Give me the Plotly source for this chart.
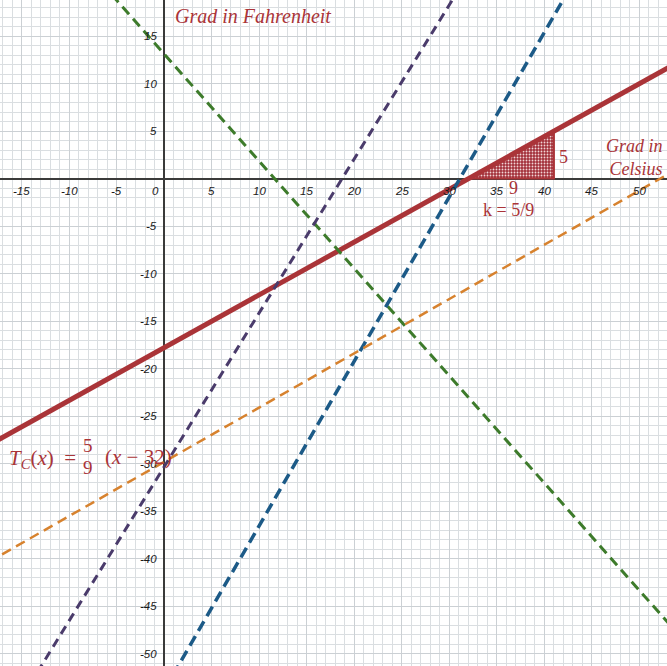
import plotly.graph_objects as go

# ---------------- data ----------------
x_range = [-17.3, 52.9]
y_range = [-51.3, 18.8]

x_tick_vals = [-15, -10, -5, 0, 5, 10, 15, 20, 25, 30, 35, 40, 45, 50]
y_tick_vals = [15, 10, 5, -5, -10, -15, -20, -25, -30, -35, -40, -45, -50]

# Red solid line  T_C(x) = 5/9 (x - 32)
red_x = [-20, 56]
red_y = [-28.89, 13.33]
# dashed helper lines (end points, clipped by axes)
green_x = [-10, 60]
green_y = [24.39, -54.64]
purple_x = [-20, 35]
purple_y = [-62.7, 26.4]
blue_x = [0, 45]
blue_y = [-53.8, 24.05]
orange_x = [-20, 56]
orange_y = [-41.22, 2.18]
# slope triangle
tri_x = [32, 41, 41, 32]
tri_y = [0, 0, 5, 0]

RED = "#aa3438"
GREEN = "#3d7b2b"
PURPLE = "#4a3b6b"
BLUE = "#1c5a87"
ORANGE = "#d7822e"

fig = go.Figure()

fig.add_trace(go.Scatter(
    x=tri_x, y=tri_y, mode="lines", fill="toself",
    line=dict(color=RED, width=2),
    fillcolor=RED,
    fillpattern=dict(shape=".", fgcolor="#f2d6d6", bgcolor="#a3303a",
                     size=3, solidity=0.3, fillmode="replace"),
    hoverinfo="skip", showlegend=False))

fig.add_trace(go.Scatter(x=red_x, y=red_y, mode="lines",
                         line=dict(color=RED, width=5), showlegend=False))
fig.add_trace(go.Scatter(x=green_x, y=green_y, mode="lines",
                         line=dict(color=GREEN, width=3, dash="10px,6px"), showlegend=False))
fig.add_trace(go.Scatter(x=purple_x, y=purple_y, mode="lines",
                         line=dict(color=PURPLE, width=3, dash="9px,6px"), showlegend=False))
fig.add_trace(go.Scatter(x=blue_x, y=blue_y, mode="lines",
                         line=dict(color=BLUE, width=3.5, dash="11px,6px"), showlegend=False))
fig.add_trace(go.Scatter(x=orange_x, y=orange_y, mode="lines",
                         line=dict(color=ORANGE, width=2.5, dash="10px,6px"), showlegend=False))

ann = []
tick_font = dict(family="Liberation Sans, Arial, sans-serif", size=11.5, color="#1a1a1a")
for v in x_tick_vals:
    ann.append(dict(x=(v if v != 0 else -0.95), y=-1.3, xref="x", yref="y",
                    text=f"<i>{v}</i>", showarrow=False, font=tick_font,
                    xanchor="center", yanchor="middle"))
for v in y_tick_vals:
    ann.append(dict(x=-0.6, y=v, xref="x", yref="y",
                    text=f"<i>{v}</i>", showarrow=False, font=tick_font,
                    xanchor="right", yanchor="middle"))

serif = "Liberation Serif, Times New Roman, serif"
ann += [
    dict(x=0.9, y=17.1, xref="x", yref="y", text="<i>Grad in Fahrenheit</i>",
         showarrow=False, xanchor="left", yanchor="middle",
         font=dict(family=serif, size=20, color=RED)),
    dict(x=52.7, y=2.2, xref="x", yref="y", text="<i>Grad in<br>Celsius</i>",
         showarrow=False, xanchor="right", yanchor="middle", align="right",
         font=dict(family=serif, size=18, color=RED)),
    dict(x=36.7, y=-0.95, xref="x", yref="y", text="9",
         showarrow=False, xanchor="center", yanchor="middle",
         font=dict(family=serif, size=18, color=RED)),
    dict(x=41.3, y=2.3, xref="x", yref="y", text="5",
         showarrow=False, xanchor="left", yanchor="middle",
         font=dict(family=serif, size=18, color=RED)),
    dict(x=36.2, y=-3.3, xref="x", yref="y", text="k = 5/9",
         showarrow=False, xanchor="center", yanchor="middle",
         font=dict(family=serif, size=18, color=RED)),
    # formula T_C(x) = 5/9 (x - 32)
    dict(x=-16.6, y=-29.5, xref="x", yref="y",
         text="<i>T</i><sub><i>C</i></sub>(<i>x</i>)  =",
         showarrow=False, xanchor="left", yanchor="middle",
         font=dict(family=serif, size=21, color=RED)),
    dict(x=-8.0, y=-28.1, xref="x", yref="y", text="5",
         showarrow=False, xanchor="center", yanchor="middle",
         font=dict(family=serif, size=19, color=RED)),
    dict(x=-8.0, y=-30.4, xref="x", yref="y", text="9",
         showarrow=False, xanchor="center", yanchor="middle",
         font=dict(family=serif, size=19, color=RED)),
    dict(x=-6.5, y=-29.3, xref="x", yref="y", text="(<i>x</i> − 32)",
         showarrow=False, xanchor="left", yanchor="middle",
         font=dict(family=serif, size=21, color=RED)),
]

fig.update_layout(
    width=667, height=666,
    margin=dict(l=0, r=0, t=0, b=0),
    paper_bgcolor="white", plot_bgcolor="white",
    annotations=ann, showlegend=False,
    xaxis=dict(range=x_range, dtick=5, tick0=0, showgrid=True, gridcolor="#cbd0d4",
               gridwidth=1, showticklabels=False, ticks="",
               zeroline=True, zerolinecolor="#3a3a3a", zerolinewidth=1.6,
               minor=dict(dtick=1, showgrid=True, gridcolor="#dadee1", gridwidth=1),
               fixedrange=True),
    yaxis=dict(range=y_range, dtick=5, tick0=0, showgrid=True, gridcolor="#cbd0d4",
               gridwidth=1, showticklabels=False, ticks="",
               zeroline=True, zerolinecolor="#3a3a3a", zerolinewidth=1.6,
               minor=dict(dtick=1, showgrid=True, gridcolor="#dadee1", gridwidth=1),
               fixedrange=True),
)

fig.write_html("out.html", config={"displayModeBar": False},
               post_script="document.body.style.margin='0';document.body.style.overflow='hidden';")
